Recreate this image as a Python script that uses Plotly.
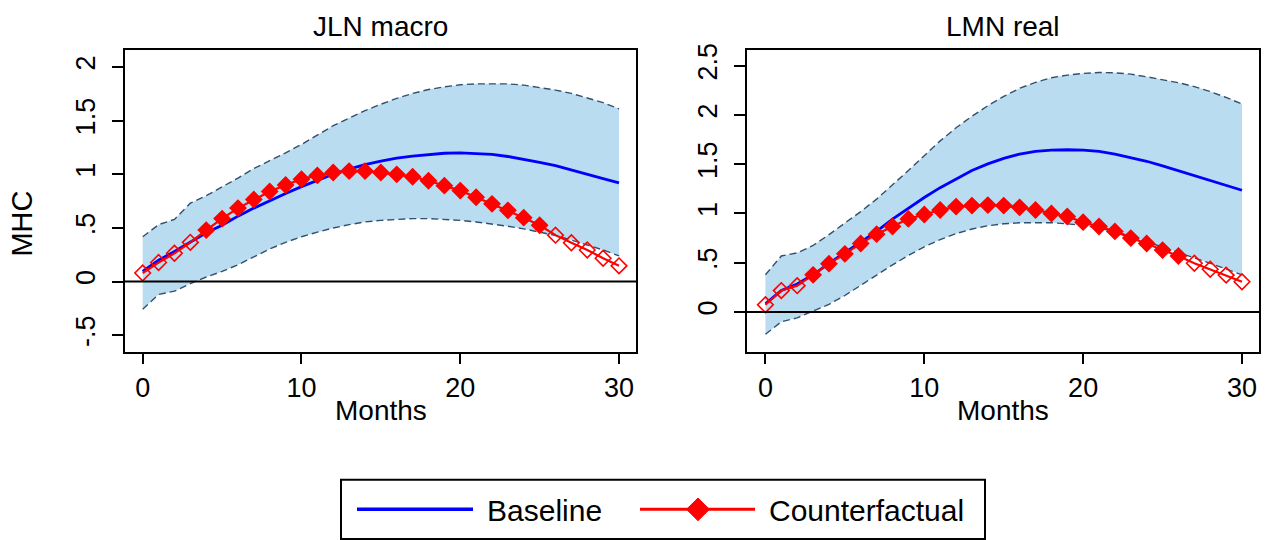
import plotly.graph_objects as go

# ---------------- data ----------------
months = list(range(31))

# JLN macro panel
jln_baseline = [0.095, 0.20, 0.28, 0.37, 0.455, 0.525, 0.61, 0.685, 0.756, 0.822, 0.885,
                0.945, 1.0, 1.048, 1.09, 1.122, 1.15, 1.17, 1.186, 1.196, 1.20,
                1.196, 1.186, 1.166, 1.14, 1.112, 1.08, 1.042, 1.0, 0.96, 0.92]
jln_upper = [0.418, 0.531, 0.58, 0.731, 0.80, 0.879, 0.965, 1.054, 1.124, 1.20, 1.278,
             1.367, 1.453, 1.524, 1.594, 1.653, 1.708, 1.754, 1.79, 1.815, 1.834,
             1.843, 1.846, 1.843, 1.831, 1.81, 1.785, 1.754, 1.714, 1.668, 1.61]
jln_lower = [-0.258, -0.12, -0.089, -0.018, 0.043, 0.095, 0.157, 0.233, 0.304, 0.366, 0.418,
             0.461, 0.50, 0.531, 0.556, 0.571, 0.58, 0.587, 0.587, 0.58, 0.571,
             0.556, 0.538, 0.516, 0.492, 0.464, 0.43, 0.387, 0.341, 0.295, 0.24]
jln_counter = [0.08, 0.178, 0.264, 0.366, 0.48, 0.587, 0.685, 0.765, 0.84, 0.90, 0.955,
               0.99, 1.017, 1.03, 1.03, 1.017, 1.0, 0.977, 0.94, 0.894, 0.848,
               0.786, 0.725, 0.664, 0.596, 0.525, 0.433, 0.362, 0.295, 0.218, 0.147]
jln_filled = [False] * 4 + [True] * 22 + [False] * 5

# LMN real panel
lmn_baseline = [0.083, 0.217, 0.284, 0.377, 0.494, 0.60, 0.708, 0.818, 0.942, 1.052, 1.162,
                1.262, 1.353, 1.436, 1.503, 1.56, 1.603, 1.63, 1.643, 1.647, 1.643,
                1.63, 1.603, 1.57, 1.53, 1.483, 1.433, 1.383, 1.333, 1.283, 1.236]
lmn_upper = [0.377, 0.568, 0.60, 0.675, 0.785, 0.902, 1.019, 1.146, 1.286, 1.436, 1.586,
             1.737, 1.87, 1.987, 2.094, 2.188, 2.271, 2.331, 2.378, 2.405, 2.422,
             2.432, 2.428, 2.415, 2.388, 2.361, 2.328, 2.288, 2.238, 2.178, 2.111]
lmn_lower = [-0.227, -0.10, -0.06, 0.007, 0.077, 0.167, 0.267, 0.374, 0.478, 0.574, 0.661,
             0.735, 0.795, 0.842, 0.875, 0.895, 0.905, 0.908, 0.905, 0.895, 0.878,
             0.852, 0.815, 0.768, 0.715, 0.658, 0.601, 0.548, 0.494, 0.434, 0.377]
lmn_counter = [0.073, 0.217, 0.267, 0.377, 0.49, 0.59, 0.695, 0.79, 0.868, 0.945, 0.99,
               1.035, 1.07, 1.08, 1.085, 1.08, 1.062, 1.035, 1.0, 0.969, 0.912,
               0.868, 0.818, 0.75, 0.695, 0.628, 0.568, 0.494, 0.434, 0.374, 0.307]
lmn_filled = [False] * 3 + [True] * 24 + [False] * 4

panel_titles = ["JLN macro", "LMN real"]
x_ticks = [0, 10, 20, 30]
x_ticktext = ["0", "10", "20", "30"]
jln_yticks = [-0.5, 0, 0.5, 1, 1.5, 2]
jln_yticktext = ["-.5", "0", ".5", "1", "1.5", "2"]
lmn_yticks = [0, 0.5, 1, 1.5, 2, 2.5]
lmn_yticktext = ["0", ".5", "1", "1.5", "2", "2.5"]
legend_labels = ["Baseline", "Counterfactual"]
x_title = "Months"
y_title = "MHC"

# ---------------- styling ----------------
W, H = 1267, 540
FONT = "Arial, Liberation Sans, sans-serif"
BAND = "rgb(185,220,240)"
BAND_LINE = "rgb(50,80,110)"
BLUE = "#0000ff"
RED = "#ff0000"


def px(xp):
    return xp / W


def py(yp):
    return 1 - yp / H


fig = go.Figure()


def add_panel(xa, ya, base, up, lo, cf, filled):
    fig.add_trace(go.Scatter(x=months, y=lo, mode="lines", xaxis=xa, yaxis=ya,
                             line=dict(color=BAND_LINE, width=1.4, dash="7px,4px"),
                             showlegend=False, hoverinfo="skip"))
    fig.add_trace(go.Scatter(x=months, y=up, mode="lines", xaxis=xa, yaxis=ya,
                             fill="tonexty", fillcolor=BAND,
                             line=dict(color=BAND_LINE, width=1.4, dash="7px,4px"),
                             showlegend=False, hoverinfo="skip"))
    fig.add_trace(go.Scatter(x=months, y=base, mode="lines", xaxis=xa, yaxis=ya,
                             line=dict(color=BLUE, width=2.8), showlegend=False))
    symbols = ["diamond" if f else "diamond-open" for f in filled]
    fig.add_trace(go.Scatter(x=months, y=cf, mode="lines+markers", xaxis=xa, yaxis=ya,
                             line=dict(color=RED, width=2.2),
                             marker=dict(symbol=symbols, size=12, color=RED,
                                         line=dict(color=RED, width=1.6)),
                             showlegend=False))


add_panel("x", "y", jln_baseline, jln_upper, jln_lower, jln_counter, jln_filled)
add_panel("x2", "y2", lmn_baseline, lmn_upper, lmn_lower, lmn_counter, lmn_filled)

tickfont = dict(family=FONT, size=27, color="black")
common_x = dict(tickvals=x_ticks, ticktext=x_ticktext, ticks="outside", ticklen=10,
                tickwidth=2, tickcolor="black", showline=True, linecolor="black",
                linewidth=2, mirror=True, showgrid=False, zeroline=False,
                tickfont=tickfont)
common_y = dict(ticks="outside", ticklen=11, tickwidth=2, tickcolor="black",
                showline=True, linecolor="black", linewidth=2, mirror=True,
                showgrid=False, zeroline=False, tickangle=-90, tickfont=tickfont,
                ticklabelstandoff=6)

ydom = [py(350), py(44)]
fig.update_layout(
    width=W, height=H,
    margin=dict(l=0, r=0, t=0, b=0),
    paper_bgcolor="white", plot_bgcolor="white",
    showlegend=False,
    xaxis=dict(domain=[px(125), px(636)], range=[-1.115, 31.07], anchor="y", **common_x),
    yaxis=dict(domain=ydom, range=[-0.657, 2.163], anchor="x",
               tickvals=jln_yticks, ticktext=jln_yticktext, **common_y),
    xaxis2=dict(domain=[px(747), px(1259)], range=[-1.16, 31.07], anchor="y2", **common_x),
    yaxis2=dict(domain=ydom, range=[-0.408, 2.665], anchor="x2",
                tickvals=lmn_yticks, ticktext=lmn_yticktext, **common_y),
)

# zero lines
for xr, yr in [("x domain", "y"), ("x2 domain", "y2")]:
    fig.add_shape(type="line", xref=xr, yref=yr, x0=0, x1=1, y0=0, y1=0,
                  line=dict(color="black", width=2), layer="above")

annots = []
# panel titles
annots.append(dict(text=panel_titles[0], x=px(380.5), y=py(21), xref="paper", yref="paper",
                   showarrow=False, xanchor="center", yanchor="middle",
                   font=dict(family=FONT, size=28, color="black")))
annots.append(dict(text=panel_titles[1], x=px(1003), y=py(21), xref="paper", yref="paper",
                   showarrow=False, xanchor="center", yanchor="middle",
                   font=dict(family=FONT, size=28, color="black")))
# x titles
for cx in (380.5, 1003):
    annots.append(dict(text=x_title, x=px(cx), y=py(409), xref="paper", yref="paper",
                       showarrow=False, xanchor="center", yanchor="middle",
                       font=dict(family=FONT, size=28, color="black")))
# y title
annots.append(dict(text=y_title, x=px(22), y=py(220), xref="paper", yref="paper",
                   showarrow=False, xanchor="center", yanchor="middle", textangle=-90,
                   font=dict(family=FONT, size=29, color="black")))

# legend (drawn manually)
fig.add_shape(type="rect", xref="paper", yref="paper", x0=px(341), x1=px(985),
              y0=py(539), y1=py(479), line=dict(color="black", width=2),
              fillcolor="white", layer="above")
fig.add_shape(type="line", xref="paper", yref="paper", x0=px(357), x1=px(473),
              y0=py(509), y1=py(509), line=dict(color=BLUE, width=3.5))
fig.add_shape(type="line", xref="paper", yref="paper", x0=px(640), x1=px(755),
              y0=py(509), y1=py(509), line=dict(color=RED, width=3))
cxd, cyd, r = 698, 509, 11.5
fig.add_shape(type="path", xref="paper", yref="paper",
              path=f"M {px(cxd - r)},{py(cyd)} L {px(cxd)},{py(cyd - r)} L {px(cxd + r)},{py(cyd)} L {px(cxd)},{py(cyd + r)} Z",
              fillcolor=RED, line=dict(color=RED, width=1))
annots.append(dict(text=legend_labels[0], x=px(485), y=py(510), xref="paper", yref="paper",
                   showarrow=False, xanchor="left", yanchor="middle",
                   font=dict(family=FONT, size=30, color="black")))
annots.append(dict(text=legend_labels[1], x=px(767), y=py(510), xref="paper", yref="paper",
                   showarrow=False, xanchor="left", yanchor="middle",
                   font=dict(family=FONT, size=30, color="black")))

fig.update_layout(annotations=annots)
fig.write_html("out.html", config={"displayModeBar": False},
               post_script="document.body.style.margin='0';document.body.style.overflow='hidden';")
